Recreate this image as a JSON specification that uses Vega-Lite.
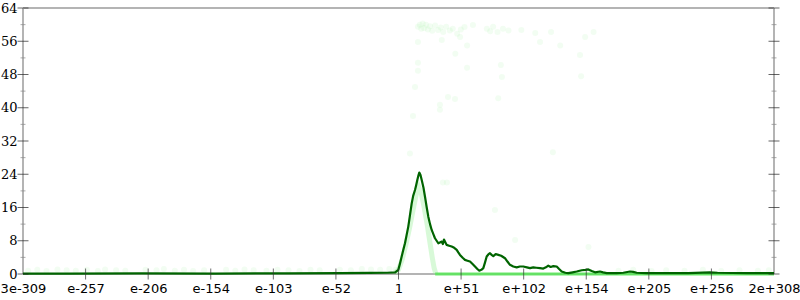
{
  "$schema": "https://vega.github.io/schema/vega-lite/v6.json",
  "width": 751,
  "height": 266,
  "autosize": {"type": "none"},
  "padding": {"left": 23, "top": 8, "right": 26, "bottom": 26},
  "background": "white",
  "config": {"view": {"stroke": null}},
  "encoding": {
    "x": {
      "field": "x", "type": "quantitative",
      "scale": {"domain": [-1024, 1024], "nice": false, "zero": false},
      "axis": {
        "title": null,
        "values": [-1024, -853.3333, -682.6667, -512, -341.3333, -170.6667, 0, 170.6667, 341.3333, 512, 682.6667, 853.3333, 1024],
        "labelExpr": "['3e-309','e-257','e-206','e-154','e-103','e-52','1','e+51','e+102','e+154','e+205','e+256','2e+308'][round((datum.value+1024)*12/2048)]",
        "ticks": false, "domain": false, "grid": false,
        "labelFont": "DejaVu Sans", "labelFontSize": 13, "labelColor": "#000",
        "labelPadding": 8, "labelFlush": false, "labelOverlap": false
      }
    },
    "y": {
      "field": "y", "type": "quantitative",
      "scale": {"domain": [0, 64], "nice": false, "zero": true},
      "axis": {
        "title": null,
        "values": [0, 8, 16, 24, 32, 40, 48, 56, 64],
        "ticks": false, "domain": false, "grid": false,
        "labelFont": "DejaVu Serif", "labelFontSize": 13, "labelColor": "#000",
        "labelPadding": 6, "labelFlush": false, "labelOverlap": false
      }
    }
  },
  "layer": [
    {
      "data": {"values": [{"x": -1024, "x2": 1024, "y": 0}, {"x": -1024, "x2": 1024, "y": 64}]},
      "mark": {"type": "rule", "color": "#b4b4b4", "strokeWidth": 2},
      "encoding": {"x2": {"field": "x2"}}
    },
    {
      "data": {"values": [{"x": -1024, "y": 0, "y2": 64}, {"x": 1024, "y": 0, "y2": 64}]},
      "mark": {"type": "rule", "color": "#b4b4b4", "strokeWidth": 2},
      "encoding": {"y2": {"field": "y2"}}
    },
    {
      "data": {"values": [
        {"x": -1010, "y": 0.8}, {"x": -985, "y": 1.0}, {"x": -960, "y": 0.7}, {"x": -930, "y": 1.1},
        {"x": -905, "y": 0.9}, {"x": -880, "y": 0.8}, {"x": -850, "y": 1.0}, {"x": -820, "y": 0.7},
        {"x": -800, "y": 1.1}, {"x": -770, "y": 0.9}, {"x": -745, "y": 0.8}, {"x": -690, "y": 1.0},
        {"x": -660, "y": 0.9}, {"x": -640, "y": 1.2}, {"x": -610, "y": 0.8}, {"x": -585, "y": 1.0},
        {"x": -560, "y": 0.7}, {"x": -530, "y": 0.9}, {"x": -470, "y": 1.0}, {"x": -445, "y": 0.8},
        {"x": -420, "y": 1.1}, {"x": -395, "y": 0.9}, {"x": -360, "y": 0.8}, {"x": -330, "y": 1.0},
        {"x": -300, "y": 0.9}, {"x": -270, "y": 0.7}, {"x": -240, "y": 1.0}, {"x": -215, "y": 0.9},
        {"x": -160, "y": 1.0}, {"x": -130, "y": 0.9}, {"x": -100, "y": 1.2}, {"x": -75, "y": 1.1},
        {"x": -50, "y": 1.0}, {"x": -25, "y": 1.2}, {"x": -8, "y": 1.0},
        {"x": 600, "y": 0.8}, {"x": 640, "y": 1.0}, {"x": 690, "y": 0.7}, {"x": 730, "y": 0.9},
        {"x": 780, "y": 0.8}, {"x": 830, "y": 1.0}, {"x": 880, "y": 0.7}, {"x": 930, "y": 0.9},
        {"x": 980, "y": 0.8}, {"x": 1010, "y": 0.9},
        {"x": 53, "y": 59.5}, {"x": 58, "y": 60}, {"x": 62, "y": 59}, {"x": 66, "y": 60.3},
        {"x": 70, "y": 59.2}, {"x": 75, "y": 60}, {"x": 80, "y": 58.8}, {"x": 86, "y": 59.6},
        {"x": 92, "y": 58.5}, {"x": 100, "y": 59.8}, {"x": 108, "y": 58.7}, {"x": 115, "y": 59.3},
        {"x": 122, "y": 58.2}, {"x": 130, "y": 59.5}, {"x": 140, "y": 58.6}, {"x": 148, "y": 59},
        {"x": 160, "y": 57.8}, {"x": 170, "y": 58.8}, {"x": 180, "y": 59.4}, {"x": 203, "y": 59.9},
        {"x": 241, "y": 59}, {"x": 250, "y": 58.4}, {"x": 258, "y": 59.5}, {"x": 270, "y": 58.2},
        {"x": 285, "y": 59}, {"x": 300, "y": 58.6}, {"x": 335, "y": 58.7}, {"x": 373, "y": 58},
        {"x": 416, "y": 58.2}, {"x": 509, "y": 57}, {"x": 532, "y": 58.2}, {"x": 53, "y": 55.8},
        {"x": 118, "y": 56.3}, {"x": 168, "y": 57}, {"x": 187, "y": 55}, {"x": 155, "y": 53},
        {"x": 386, "y": 55.8}, {"x": 441, "y": 55}, {"x": 495, "y": 52.7}, {"x": 53, "y": 50.8},
        {"x": 53, "y": 48.9}, {"x": 187, "y": 49.6}, {"x": 279, "y": 50.3}, {"x": 282, "y": 47.4},
        {"x": 498, "y": 47.6}, {"x": 45, "y": 45}, {"x": 135, "y": 42.6}, {"x": 154, "y": 42.1},
        {"x": 272, "y": 42.3}, {"x": 113, "y": 40.7}, {"x": 113, "y": 39.5}, {"x": 39.5, "y": 38},
        {"x": 263, "y": 15.4}, {"x": 318, "y": 8.2}, {"x": 421, "y": 29.3}, {"x": 518, "y": 6.5},
        {"x": 31, "y": 29}, {"x": 121, "y": 22}, {"x": 132, "y": 22}
      ]},
      "mark": {"type": "circle", "color": "#90ee90", "opacity": 0.12, "size": 36}
    },
    {
      "data": {"values": [
        {"x": -10, "y": 0.3}, {"x": 0, "y": 1}, {"x": 10, "y": 3.5}, {"x": 20, "y": 7},
        {"x": 30, "y": 11}, {"x": 40, "y": 15.5}, {"x": 48, "y": 19}, {"x": 55, "y": 21},
        {"x": 62, "y": 19.5}, {"x": 70, "y": 16}, {"x": 78, "y": 12}, {"x": 85, "y": 8},
        {"x": 92, "y": 4}, {"x": 97, "y": 1.5}, {"x": 102, "y": 0}
      ]},
      "mark": {"type": "line", "color": "#90ee90", "opacity": 0.35, "strokeWidth": 5}
    },
    {
      "data": {"values": [{"x": 100, "y": 0}, {"x": 1024, "y": 0}]},
      "mark": {"type": "line", "color": "#5ce65c", "opacity": 0.9, "strokeWidth": 3}
    },
    {
      "data": {"values": [
        {"x": -1024, "y": 0.1}, {"x": -900, "y": 0.1}, {"x": -700, "y": 0.15}, {"x": -500, "y": 0.1},
        {"x": -300, "y": 0.15}, {"x": -160, "y": 0.2}, {"x": -80, "y": 0.25}, {"x": -30, "y": 0.3},
        {"x": -9, "y": 0.4}, {"x": -0.5, "y": 1.0}, {"x": 4, "y": 2.5}, {"x": 8.7, "y": 4.2},
        {"x": 13, "y": 5.8}, {"x": 17.7, "y": 7.4}, {"x": 22, "y": 9.3}, {"x": 26.7, "y": 11.4},
        {"x": 31, "y": 14}, {"x": 36, "y": 17}, {"x": 40, "y": 18.8}, {"x": 45, "y": 20.2},
        {"x": 48, "y": 21.3}, {"x": 51.3, "y": 22.6}, {"x": 54, "y": 23.6}, {"x": 56.7, "y": 24.4},
        {"x": 60, "y": 23.8}, {"x": 63.3, "y": 22.6}, {"x": 68, "y": 20.8}, {"x": 72.3, "y": 18.6},
        {"x": 77, "y": 16}, {"x": 81.3, "y": 13.8}, {"x": 86, "y": 12}, {"x": 90.5, "y": 10.6},
        {"x": 95, "y": 9.6}, {"x": 99.5, "y": 8.6}, {"x": 104, "y": 8.0}, {"x": 108.5, "y": 7.4},
        {"x": 113, "y": 7.6}, {"x": 117.8, "y": 7.8}, {"x": 121, "y": 7.2}, {"x": 124, "y": 8.3},
        {"x": 128, "y": 7.6}, {"x": 131.4, "y": 7.0}, {"x": 138, "y": 6.8}, {"x": 145, "y": 6.6},
        {"x": 152, "y": 6.3}, {"x": 158.7, "y": 5.8}, {"x": 163, "y": 5.2}, {"x": 167.7, "y": 4.6},
        {"x": 175, "y": 3.9}, {"x": 181.3, "y": 3.4}, {"x": 188, "y": 3.2}, {"x": 195, "y": 3.0},
        {"x": 202, "y": 2.4}, {"x": 208.6, "y": 1.8}, {"x": 215, "y": 1.2}, {"x": 220.3, "y": 0.8},
        {"x": 226, "y": 1.0}, {"x": 231.3, "y": 1.4}, {"x": 236, "y": 2.8}, {"x": 240.5, "y": 4.2},
        {"x": 245, "y": 4.7}, {"x": 249.5, "y": 5.0}, {"x": 254, "y": 4.6}, {"x": 258.5, "y": 4.3},
        {"x": 265, "y": 4.8}, {"x": 272.2, "y": 4.6}, {"x": 280, "y": 4.4}, {"x": 290.4, "y": 3.8},
        {"x": 297, "y": 3.0}, {"x": 304, "y": 2.2}, {"x": 313, "y": 1.8}, {"x": 322.3, "y": 1.6},
        {"x": 331, "y": 1.8}, {"x": 340.3, "y": 1.8}, {"x": 350, "y": 1.6}, {"x": 358.6, "y": 1.4},
        {"x": 367.6, "y": 1.6}, {"x": 376, "y": 1.5}, {"x": 385.9, "y": 1.4}, {"x": 394.9, "y": 1.3},
        {"x": 402, "y": 1.6}, {"x": 408.5, "y": 2.0}, {"x": 415, "y": 1.7}, {"x": 422.2, "y": 1.9},
        {"x": 431.4, "y": 1.8}, {"x": 438, "y": 1.2}, {"x": 445, "y": 0.6}, {"x": 455, "y": 0.3},
        {"x": 463, "y": 0.2}, {"x": 475, "y": 0.4}, {"x": 486, "y": 0.6}, {"x": 499.6, "y": 0.9},
        {"x": 510, "y": 1.0}, {"x": 517.6, "y": 1.1}, {"x": 527, "y": 0.7}, {"x": 535.8, "y": 0.4},
        {"x": 549.5, "y": 0.6}, {"x": 558, "y": 0.4}, {"x": 567.8, "y": 0.2}, {"x": 580, "y": 0.2},
        {"x": 595, "y": 0.2}, {"x": 613, "y": 0.3}, {"x": 631.3, "y": 0.6}, {"x": 640, "y": 0.5},
        {"x": 649.5, "y": 0.3}, {"x": 676.8, "y": 0.2}, {"x": 722, "y": 0.2}, {"x": 790, "y": 0.2},
        {"x": 849, "y": 0.4}, {"x": 870, "y": 0.3}, {"x": 950, "y": 0.2}, {"x": 1024, "y": 0.2}
      ]},
      "mark": {"type": "line", "color": "#006400", "strokeWidth": 2.2, "strokeJoin": "round"}
    },
    {
      "data": {"values": [
        {"x": -1024, "y": 0}, {"x": -1024, "y": 8}, {"x": -1024, "y": 16}, {"x": -1024, "y": 24},
        {"x": -1024, "y": 32}, {"x": -1024, "y": 40}, {"x": -1024, "y": 48}, {"x": -1024, "y": 56},
        {"x": -1024, "y": 64},
        {"x": 1024, "y": 0}, {"x": 1024, "y": 8}, {"x": 1024, "y": 16}, {"x": 1024, "y": 24},
        {"x": 1024, "y": 32}, {"x": 1024, "y": 40}, {"x": 1024, "y": 48}, {"x": 1024, "y": 56},
        {"x": 1024, "y": 64}
      ]},
      "mark": {"type": "tick", "orient": "horizontal", "size": 11, "thickness": 1, "color": "#222"}
    },
    {
      "data": {"values": [
        {"x": -1024, "y": 4}, {"x": -1024, "y": 12}, {"x": -1024, "y": 20}, {"x": -1024, "y": 28},
        {"x": -1024, "y": 36}, {"x": -1024, "y": 44}, {"x": -1024, "y": 52}, {"x": -1024, "y": 60},
        {"x": 1024, "y": 4}, {"x": 1024, "y": 12}, {"x": 1024, "y": 20}, {"x": 1024, "y": 28},
        {"x": 1024, "y": 36}, {"x": 1024, "y": 44}, {"x": 1024, "y": 52}, {"x": 1024, "y": 60}
      ]},
      "mark": {"type": "tick", "orient": "horizontal", "size": 5, "thickness": 1, "color": "#888"}
    },
    {
      "data": {"values": [
        {"x": -853.3333, "y": 0}, {"x": -682.6667, "y": 0}, {"x": -512, "y": 0}, {"x": -341.3333, "y": 0},
        {"x": -170.6667, "y": 0}, {"x": 0, "y": 0}, {"x": 170.6667, "y": 0}, {"x": 341.3333, "y": 0},
        {"x": 512, "y": 0}, {"x": 682.6667, "y": 0}, {"x": 853.3333, "y": 0}
      ]},
      "mark": {"type": "tick", "orient": "vertical", "size": 11, "thickness": 1, "color": "#333"}
    }
  ]
}
